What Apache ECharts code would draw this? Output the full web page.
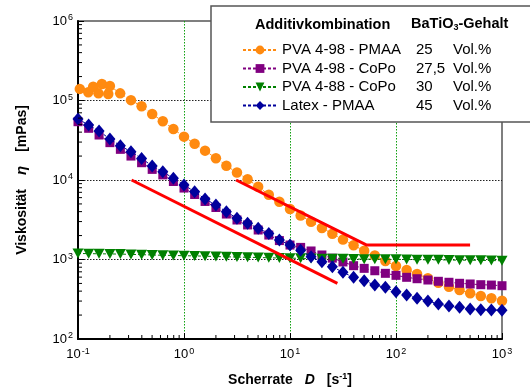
<!DOCTYPE html>
<html>
<head>
<meta charset="utf-8">
<script src="https://cdn.jsdelivr.net/npm/echarts@6/dist/echarts.min.js"></script>
<style>
  html, body { margin: 0; padding: 0; background: #fff; }
  #chart { width: 530px; height: 392px; }
</style>
</head>
<body>
<div id="chart"></div>
<script>
// Shear rates (1/s), ten points per decade
const shearRate = [0.1, 0.126, 0.158, 0.2, 0.251, 0.316, 0.398, 0.501, 0.631, 0.794,
  1, 1.26, 1.58, 2, 2.51, 3.16, 3.98, 5.01, 6.31, 7.94,
  10, 12.6, 15.8, 20, 25.1, 31.6, 39.8, 50.1, 63.1, 79.4,
  100, 126, 158, 200, 251, 316, 398, 501, 631, 794, 1000];

// PVA 4-98 - PMAA: two overlapping runs at the lowest rates
const pmaaRate = [0.104, 0.125, 0.139, 0.156, 0.168, 0.193, 0.2, 0.25,
  0.316, 0.398, 0.501, 0.631, 0.794,
  1, 1.26, 1.58, 2, 2.51, 3.16, 3.98, 5.01, 6.31, 7.94,
  10, 12.6, 15.8, 20, 25.1, 31.6, 39.8, 50.1, 63.1, 79.4,
  100, 126, 158, 200, 251, 316, 398, 501, 631, 794, 1000];
const pmaaVisc = [1.40e5, 1.27e5, 1.49e5, 1.23e5, 1.61e5, 1.21e5, 1.52e5, 1.23e5,
  1.01e5, 8.45e4, 6.76e4, 5.47e4, 4.38e4,
  3.51e4, 2.86e4, 2.34e4, 1.88e4, 1.51e4, 1.24e4, 1.02e4, 8240, 6530, 5330,
  4310, 3570, 2980, 2490, 2110, 1780, 1510, 1290, 1120, 957,
  828, 738, 658, 581, 511, 455, 413, 376, 347, 325, 303];

// PVA 4-98 - CoPo
const copo98Visc = [5.41e4, 4.47e4, 3.68e4, 2.95e4, 2.43e4, 2.00e4, 1.65e4, 1.36e4, 1.16e4, 9570,
  7920, 6570, 5370, 4510, 3730, 3140, 2720, 2350, 2030, 1730,
  1520, 1420, 1280, 1140, 1040, 931, 836, 774, 722, 670,
  632, 597, 573, 552, 532, 517, 502, 492, 482, 477, 468];

// PVA 4-88 - CoPo
const copo88Visc = [1190, 1185, 1180, 1175, 1170, 1160, 1150, 1140, 1130, 1125,
  1115, 1110, 1100, 1090, 1080, 1075, 1065, 1060, 1050, 1045,
  1040, 1035, 1030, 1025, 1020, 1020, 1015, 1010, 1010, 1005,
  1005, 1000, 995, 990, 990, 985, 980, 980, 975, 970, 965];

// Latex - PMAA
const latexVisc = [5.85e4, 4.92e4, 4.13e4, 3.28e4, 2.70e4, 2.27e4, 1.87e4, 1.50e4, 1.27e4, 1.05e4,
  8650, 7130, 5770, 4850, 3990, 3300, 2850, 2470, 2120, 1760,
  1520, 1310, 1080, 937, 811, 690, 597, 541, 477, 447,
  393, 357, 325, 301, 276, 260, 250, 238, 234, 231, 230];

// Slope guide lines
const guideLow = [[0.32, 1.0e4], [28, 500]];
const guideHigh = [[3.1, 1.0e4], [53, 1520], [500, 1520]];

const seriesNames = ['PVA 4-98 - PMAA', 'PVA 4-98 - CoPo', 'PVA 4-88 - CoPo', 'Latex - PMAA'];
const contentVol = ['25', '27,5', '30', '45'];
const seriesColors = ['#ff8a10', '#800080', '#008000', '#00009c'];

const FONT = 'Liberation Sans, Arial, Helvetica, sans-serif';

const zip = (xs, ys) => xs.map((x, i) => [x, ys[i]]);

// minor tick positions 2..9 within each decade
const minorX = [], minorY = [];
for (let e = -1; e < 3; e++) for (let m = 2; m <= 9; m++) minorX.push(+(m * Math.pow(10, e)).toPrecision(3));
for (let e = 2; e < 6; e++) for (let m = 2; m <= 9; m++) minorY.push(m * Math.pow(10, e));

function powerLabel(v) {
  const e = Math.round(Math.log10(v));
  return '{b|10}{s|' + e + '}';
}
const labelRich = {
  b: { fontSize: 13, fontFamily: FONT, color: '#000', lineHeight: 15 },
  s: { fontSize: 9, fontFamily: FONT, color: '#000', lineHeight: 9, verticalAlign: 'top', padding: [0, 0, 0, 1] }
};

const chart = echarts.init(document.getElementById('chart'), null, { renderer: 'canvas' });

function lineSeries(idx, data, symbol, size, rotate) {
  return {
    name: seriesNames[idx], type: 'line', data: data,
    symbol: symbol, symbolSize: size, symbolRotate: rotate || 0,
    showAllSymbol: true,
    itemStyle: { color: seriesColors[idx] },
    lineStyle: { color: seriesColors[idx], width: 1, type: [3, 2] },
    z: 3 + idx
  };
}

chart.setOption({
  animation: false,
  backgroundColor: '#fff',
  grid: { left: 78, right: 28, top: 21, bottom: 53, show: true, borderColor: '#555', borderWidth: 1.5, backgroundColor: 'transparent' },
  xAxis: {
    type: 'log', logBase: 10, min: 0.1, max: 1000,
    axisLine: { show: true, lineStyle: { color: '#000', width: 2 } },
    axisTick: { show: true, inside: true, length: 6, lineStyle: { color: '#000', width: 1 } },
    axisLabel: { formatter: powerLabel, rich: labelRich, margin: 8 },
    splitLine: { show: true, showMinLine: false, showMaxLine: false, lineStyle: { color: '#10a010', type: [1.5, 1.5], width: 1 } },
    name: '{t|Scherrate}{i|D}{t|[s}{s|-1}{t|]}',
    nameLocation: 'middle', nameGap: 33,
    nameTextStyle: {
      rich: {
        t: { fontSize: 14, fontWeight: 'bold', fontFamily: FONT, color: '#000', lineHeight: 16 },
        i: { fontSize: 14, fontWeight: 'bold', fontStyle: 'italic', fontFamily: FONT, color: '#000', lineHeight: 16, padding: [0, 12, 0, 12] },
        s: { fontSize: 9, fontWeight: 'bold', fontFamily: FONT, color: '#000', lineHeight: 9, verticalAlign: 'top' }
      }
    }
  },
  yAxis: {
    type: 'log', logBase: 10, min: 100, max: 1e6,
    axisLine: { show: true, lineStyle: { color: '#000', width: 2 } },
    axisTick: { show: true, inside: true, length: 6, lineStyle: { color: '#000', width: 1 } },
    axisLabel: { formatter: powerLabel, rich: labelRich, margin: 5 },
    splitLine: { show: true, showMinLine: false, showMaxLine: false, lineStyle: { color: '#222', type: [1.5, 1.5], width: 1 } },
    name: '{t|Viskosität}{i|η}{t|[mPas]}',
    nameLocation: 'middle', nameGap: 48, nameRotate: 90,
    nameTextStyle: {
      rich: {
        t: { fontSize: 14, fontWeight: 'bold', fontFamily: FONT, color: '#000', lineHeight: 16 },
        i: { fontSize: 15, fontWeight: 'bold', fontStyle: 'italic', fontFamily: FONT, color: '#000', lineHeight: 16, padding: [0, 14, 0, 14] }
      }
    }
  },
  legend: {
    data: seriesNames,
    orient: 'vertical', left: 211, top: 6,
    padding: [36.5, 45, 9, 31],
    itemGap: 3.5, itemWidth: 34, itemHeight: 11,
    backgroundColor: '#fff', borderColor: '#555', borderWidth: 1.5, borderRadius: 0,
    selectedMode: false,
    formatter: function (name) {
      const i = seriesNames.indexOf(name);
      return '{a|' + name + '}{b|' + contentVol[i] + '}{c|Vol.%}';
    },
    textStyle: {
      fontSize: 15, fontFamily: FONT, color: '#000',
      rich: {
        a: { width: 134, fontSize: 15, fontFamily: FONT, color: '#000', lineHeight: 18 },
        b: { width: 37, fontSize: 15, fontFamily: FONT, color: '#000', lineHeight: 18 },
        c: { fontSize: 15, fontFamily: FONT, color: '#000', lineHeight: 18 }
      }
    }
  },
  graphic: [
    { type: 'text', left: 255, top: 17, z: 100,
      style: { text: 'Additivkombination', font: 'bold 14.5px ' + FONT, fill: '#000' } },
    { type: 'text', left: 411, top: 16, z: 100,
      style: {
        text: '{b|BaTiO}{u|3}{b|-Gehalt}',
        rich: {
          b: { fontSize: 14.5, fontWeight: 'bold', fontFamily: FONT, fill: '#000', lineHeight: 18, verticalAlign: 'middle' },
          u: { fontSize: 9, fontWeight: 'bold', fontFamily: FONT, fill: '#000', lineHeight: 9, verticalAlign: 'bottom' }
        }
      } }
  ],
  series: [
    lineSeries(0, zip(pmaaRate, pmaaVisc), 'circle', 10.5),
    lineSeries(1, zip(shearRate, copo98Visc), 'rect', 9),
    lineSeries(2, zip(shearRate, copo88Visc), 'triangle', [11, 10], 180),
    lineSeries(3, zip(shearRate, latexVisc), 'diamond', [11, 13]),
    { type: 'line', data: guideLow, symbol: 'none', lineStyle: { color: '#ff0000', width: 3 }, z: 10, silent: true },
    { type: 'line', data: guideHigh, symbol: 'none', lineStyle: { color: '#ff0000', width: 3 }, z: 10, silent: true },
    { type: 'custom', silent: true, clip: false, z: 11,
      data: minorX.map(v => [v, 100]),
      renderItem: function (params, api) {
        const p = api.coord([api.value(0), api.value(1)]);
        return { type: 'line', shape: { x1: p[0], y1: p[1], x2: p[0], y2: p[1] - 4 }, style: { stroke: '#000', lineWidth: 1 } };
      } },
    { type: 'custom', silent: true, clip: false, z: 11,
      data: minorY.map(v => [0.1, v]),
      renderItem: function (params, api) {
        const p = api.coord([api.value(0), api.value(1)]);
        return { type: 'line', shape: { x1: p[0], y1: p[1], x2: p[0] + 4, y2: p[1] }, style: { stroke: '#000', lineWidth: 1 } };
      } }
  ]
});
</script>
</body>
</html>
